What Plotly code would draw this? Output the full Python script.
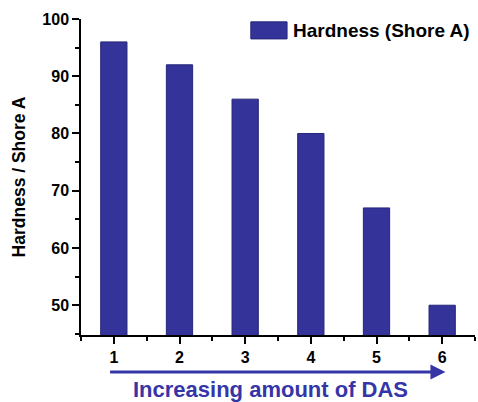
import plotly.graph_objects as go

# sample index (increasing DAS content) and measured hardness
samples = [1, 2, 3, 4, 5, 6]
hardness = [96, 92, 86, 80, 67, 50]
series_name = "Hardness (Shore A)"

BAR = "#333399"
FONT = "Arial, Liberation Sans, sans-serif"

fig = go.Figure()
fig.add_trace(go.Bar(
    x=samples,
    y=hardness,
    width=0.4,
    name=series_name,
    marker=dict(color=BAR, line=dict(color="#26267a", width=1)),
    showlegend=False,
))

axis_common = dict(
    showline=True,
    linecolor="black",
    linewidth=1.5,
    ticks="outside",
    tickcolor="black",
    tickwidth=1.5,
    ticklen=7,
    showgrid=False,
    zeroline=False,
    automargin=False,
    tickfont=dict(family=FONT, size=16, color="black", weight="bold"),
)

fig.update_xaxes(
    range=[0.5, 6.5],
    tickmode="linear", tick0=1, dtick=1,
    minor=dict(ticks="outside", dtick=0.5, tick0=0.5, ticklen=4,
               tickcolor="black", tickwidth=1.5),
    **axis_common,
)
fig.update_yaxes(
    range=[44.8, 100],
    tickmode="linear", tick0=50, dtick=10,
    minor=dict(ticks="outside", dtick=5, tick0=45, ticklen=4,
               tickcolor="black", tickwidth=1.5),
    title=dict(text="Hardness / Shore A", standoff=12,
               font=dict(family=FONT, size=17.5, color="black", weight="bold")),
    **axis_common,
)

# legend drawn by hand so the swatch matches the wide box of the original
fig.add_shape(type="rect", xref="paper", yref="paper",
              x0=0.431, x1=0.523, y0=0.937, y1=0.991,
              fillcolor=BAR, line=dict(color="#26267a", width=1))
fig.add_annotation(xref="paper", yref="paper", x=0.532, y=0.964,
                   xanchor="left", yanchor="middle", showarrow=False,
                   text=series_name,
                   font=dict(family=FONT, size=19, color="black", weight="bold"))

# arrow under the x axis
fig.add_annotation(xref="x", yref="paper", x=6.05, y=-0.117,
                   axref="x", ayref="pixel", ax=0.92, ay=0,
                   showarrow=True, arrowhead=2, arrowsize=1, arrowwidth=3,
                   arrowcolor="#3535a8", text="")
fig.add_annotation(xref="paper", yref="paper", x=0.48, y=-0.171,
                   xanchor="center", yanchor="middle", showarrow=False,
                   text="Increasing amount of DAS",
                   font=dict(family=FONT, size=22, color="#3535a8", weight="bold"))

fig.update_layout(
    width=478, height=402,
    margin=dict(l=81, r=3, t=19, b=67),
    plot_bgcolor="white",
    paper_bgcolor="white",
    font=dict(family=FONT),
)

# page body has a default 8px margin that pushes the figure off the window
fig.write_html("out.html", config={"displayModeBar": False},
               post_script="document.body.style.margin='0';")
